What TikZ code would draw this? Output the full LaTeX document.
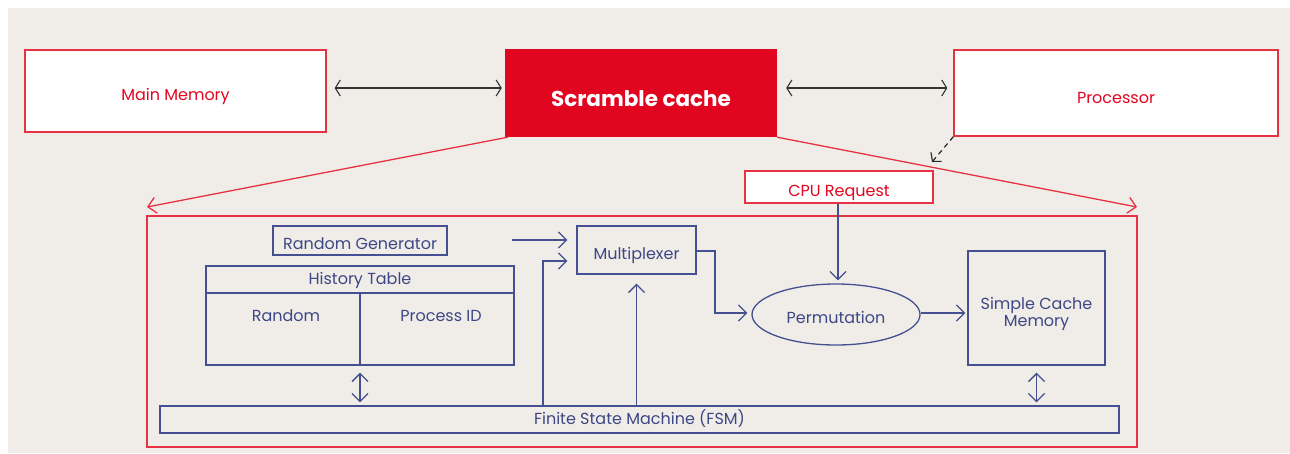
\documentclass[tikz,border=0pt]{standalone}
\usepackage{fontspec}
\setmainfont{Poppins}
\usetikzlibrary{arrows.meta,shapes.geometric,calc}
\definecolor{bgc}{HTML}{F0EDE8}
\definecolor{redl}{HTML}{E63344}
\definecolor{redf}{HTML}{E20520}
\definecolor{navy}{HTML}{44508F}
\definecolor{navyt}{HTML}{3D4785}
\newcommand\tx[2]{\raisebox{-#1}[0pt][0pt]{#2}}
\tikzset{
  redbox/.style={draw=redl, line width=1.3pt, fill=white, text=redf, inner sep=0pt, font=\fontsize{16}{17}\selectfont},
  bluebox/.style={draw=navy, line width=1.3pt, inner sep=0pt, text=navyt, font=\fontsize{16}{17}\selectfont},
  bluetxt/.style={text=navyt, inner sep=0pt, font=\fontsize{16}{17}\selectfont, anchor=base},
  blarrow/.style={draw=navy, line width=1.3pt, -{Straight Barb[length=8pt,width=16pt,line width=1.3pt]}},
  bldbl/.style={draw=navy, line width=1.3pt, {Straight Barb[length=8pt,width=16pt,line width=1.3pt]}-{Straight Barb[length=8pt,width=16pt,line width=1.3pt]}},
  bkdbl/.style={draw=black!80, line width=1.2pt, {Straight Barb[length=5pt,width=16pt,line width=1.1pt]}-{Straight Barb[length=5pt,width=16pt,line width=1.1pt]}},
  redarrow/.style={draw=redl, line width=1.3pt, -{Straight Barb[length=8pt,width=16pt,line width=1.3pt]}},
}
\begin{document}
\begin{tikzpicture}[x=1pt,y=-1pt]
\useasboundingbox (0,0) rectangle (1290,453);
\fill[white] (0,0) rectangle (1290,453);
\fill[bgc] (8,8) rectangle (1290,453);
% top row
\node[redbox, minimum width=301pt, minimum height=82pt] (mm) at (175.5,91) {\tx{9.5pt}{Main Memory}};
\node[fill=redf, inner sep=0pt, minimum width=272pt, minimum height=88pt, text=white, font=\fontsize{21.5}{24}\selectfont\bfseries] (sc) at (641,93) {\tx{13.5pt}{Scramble cache}};
\node[redbox, minimum width=324pt, minimum height=86pt] (pr) at (1116,93) {\tx{10pt}{Processor}};
\draw[bkdbl] ([xshift=8pt,yshift=3pt]mm.east) -- ([xshift=-3pt,yshift=5pt]sc.west);
\draw[bkdbl] ([xshift=9pt,yshift=5pt]sc.east) -- ([xshift=-6pt,yshift=5pt]pr.west);
\coordinate (dz) at (932,162);
\draw[black!85, line width=1.2pt, dashed, dash pattern=on 5pt off 4pt, -{Straight Barb[length=6pt,width=14pt,line width=1.1pt]}] (pr.south west) -- (dz);
% outer
\node[draw=redl, line width=1.3pt, minimum width=990pt, minimum height=231pt, inner sep=0pt] (outer) at (642,331.5) {};
\coordinate (lt) at (147,207);
\coordinate (rt) at (1137,207);
\draw[redarrow] ([xshift=3pt]sc.south west) -- (lt);
\draw[redarrow] (sc.south east) -- (rt);
\node[redbox, minimum width=188pt, minimum height=32pt] (cpu) at (839,187) {\tx{9pt}{CPU Request}};
% inner blue
\node[bluebox, minimum width=174pt, minimum height=29pt] (rg) at (360,240.5) {\tx{8.5pt}{Random Generator}};
\node[bluebox, minimum width=308pt, minimum height=99pt] (ht) at (360,315.5) {};
\draw[navy, line width=1.3pt] (206,293) -- (514,293);
\draw[navy, line width=1.3pt] (360,293) -- (ht.south);
\node[bluetxt] (htt) at (360,284) {History Table};
\node[bluetxt] (rnd) at (286,321) {Random};
\node[bluetxt] (pid) at (441,321) {Process ID};
\node[bluebox, minimum width=959pt, minimum height=27pt] (fsm) at (639.5,419.5) {\tx{4.5pt}{Finite State Machine (FSM)}};
\node[bluebox, minimum width=119pt, minimum height=48pt] (mux) at (636.5,250) {\tx{9pt}{Multiplexer}};
\node[bluebox, ellipse, minimum width=168pt, minimum height=61pt] (perm) at (836,314.5) {\tx{8.5pt}{Permutation}};
\node[bluebox, minimum width=137pt, minimum height=114pt] (scm) at (1036.5,308) {\tx{1pt}{\begin{tabular}[t]{@{}c@{}}Simple Cache\\Memory\end{tabular}}};
% connectors
\coordinate (rgs) at (512,240);
\draw[blarrow] (rgs) -- ([xshift=-9pt,yshift=10pt]mux.west);
\draw[blarrow] (fsm.north -| 543,0) |- ([xshift=-9pt,yshift=-11pt]mux.west);
\draw[blarrow] (fsm.north -| mux.south) -- ([yshift=-9pt]mux.south);
\draw[blarrow] ([yshift=-1pt]mux.east) -| (715,313) -- ([xshift=-4pt]perm.west |- 0,313);
\draw[blarrow] (cpu.south -| 838,0) -- ([yshift=3pt]perm.north -| 838,0);
\draw[blarrow] (perm.east |- 0,313) -- ([xshift=-2pt]scm.west |- 0,313);
\draw[bldbl] ([yshift=-7pt]ht.south) -- ([yshift=3pt]fsm.north -| ht.south);
\draw[bldbl] ([yshift=-7pt]scm.south) -- ([yshift=3pt]fsm.north -| scm.south);
\end{tikzpicture}
\end{document}
